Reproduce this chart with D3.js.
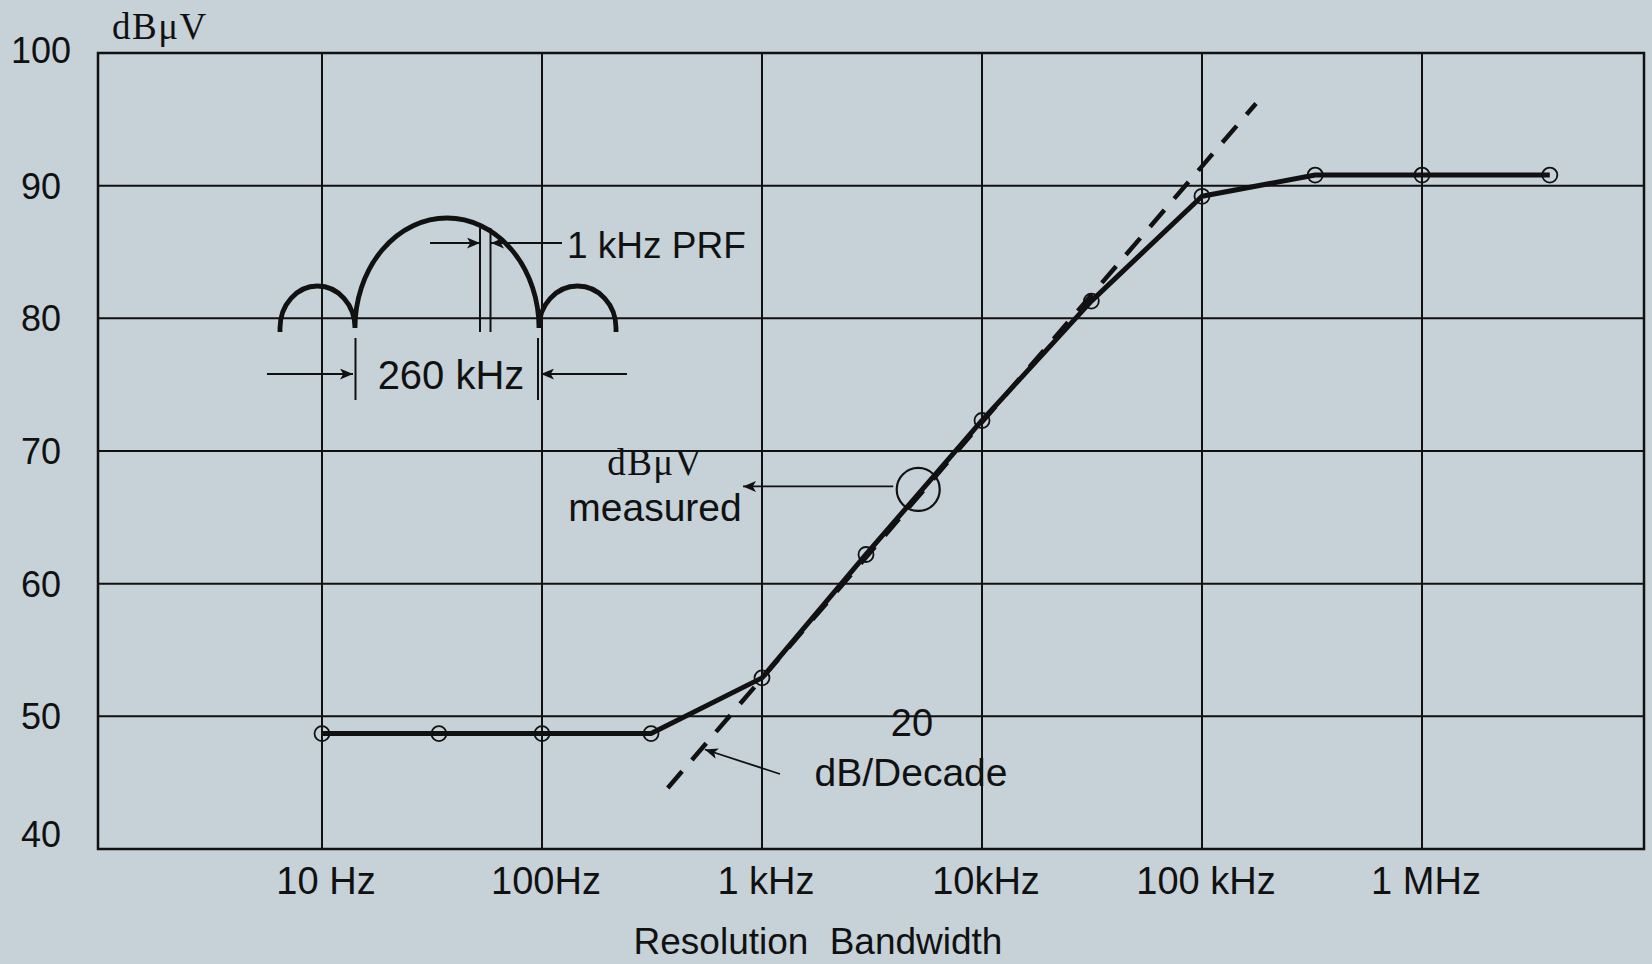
<!DOCTYPE html>
<html>

<head>
    <meta charset="utf-8">
    <script src="https://cdn.jsdelivr.net/npm/d3@7"></script>
    <style>
        body { margin: 0; background: #c6d1d8; }
        svg { display: block; }
    </style>
</head>

<body>
    <div id="chart"></div>

    <script>

        // measured points (resolution bandwidth in Hz, level in dBuV)
        var bandwidths = [10, 34, 100, 313, 1000, 2970, 10000, 31400, 100000, 327000, 1000000, 3810000];
        var levels = [48.7, 48.7, 48.7, 48.7, 52.9, 62.2, 72.3, 81.3, 89.2, 90.8, 90.8, 90.8];

        // 20 dB/decade reference line
        var slopeBandwidths = [373, 176000];
        var slopeLevels = [44.6, 96.2];

        var xTickValues = [10, 100, 1000, 10000, 100000, 1000000];
        var xTickLabels = ["10 Hz", "100Hz", "1 kHz", "10kHz", "100 kHz", "1 MHz"];
        var yTickValues = [100, 90, 80, 70, 60, 50, 40];
        var yGridValues = [50, 60, 70, 80, 90];

        var markerPoint = { f: 5130, db: 67.1 };
        var slopeArrowTip = { f: 550, db: 47.5 };

        var width = 1652,
            height = 964;
        var frame = { left: 98, right: 1644, top: 53, bottom: 849 };

        var sans = "'Liberation Sans', Arial, sans-serif";
        var serif = "'Liberation Serif', 'Times New Roman', serif";
        var ink = "#111";

        var x = d3.scaleLog()
            .domain([1, 1e7])
            .range([frame.left + 4, frame.right - 2]);

        var y = d3.scaleLinear()
            .domain([40, 100])
            .range([frame.bottom, frame.top]);

        var svg = d3.select("#chart")
            .append("svg")
            .attr("width", width)
            .attr("height", height);

        svg.append("rect")
            .attr("width", width)
            .attr("height", height)
            .attr("fill", "#c6d1d8");

        var defs = svg.append("defs");
        defs.append("marker")
            .attr("id", "arrow")
            .attr("viewBox", "0 -5 12 10")
            .attr("refX", 12)
            .attr("refY", 0)
            .attr("markerUnits", "userSpaceOnUse")
            .attr("markerWidth", 13)
            .attr("markerHeight", 11)
            .attr("orient", "auto")
            .append("path")
            .attr("d", "M0,-5L12,0L0,5L3,0Z")
            .attr("fill", ink);

        // grid
        var grid = svg.append("g")
            .attr("stroke", ink)
            .attr("stroke-width", 2);

        grid.selectAll(".hgrid")
            .data(yGridValues)
            .join("line")
            .attr("class", "hgrid")
            .attr("x1", frame.left)
            .attr("x2", frame.right)
            .attr("y1", d => y(d))
            .attr("y2", d => y(d));

        grid.selectAll(".vgrid")
            .data(xTickValues)
            .join("line")
            .attr("class", "vgrid")
            .attr("x1", d => x(d))
            .attr("x2", d => x(d))
            .attr("y1", frame.top)
            .attr("y2", frame.bottom);

        svg.append("rect")
            .attr("x", frame.left)
            .attr("y", frame.top)
            .attr("width", frame.right - frame.left)
            .attr("height", frame.bottom - frame.top)
            .attr("fill", "none")
            .attr("stroke", ink)
            .attr("stroke-width", 2.5);

        // axis labels
        svg.append("g")
            .selectAll("text")
            .data(yTickValues)
            .join("text")
            .attr("x", 41)
            .attr("y", d => y(d) + (d === 40 ? -15 : d === 100 ? -2.5 : 0))
            .attr("dy", "0.36em")
            .attr("text-anchor", "middle")
            .attr("font-family", sans)
            .attr("font-size", 36)
            .attr("fill", ink)
            .text(d => d);

        svg.append("g")
            .selectAll("text")
            .data(xTickValues)
            .join("text")
            .attr("x", d => x(d) + 4)
            .attr("y", 894)
            .attr("text-anchor", "middle")
            .attr("font-family", sans)
            .attr("font-size", 38)
            .attr("fill", ink)
            .text((d, i) => xTickLabels[i]);

        svg.append("text")
            .attr("x", 818)
            .attr("y", 954)
            .attr("text-anchor", "middle")
            .attr("font-family", sans)
            .attr("font-size", 37)
            .attr("word-spacing", 11)
            .attr("fill", ink)
            .text("Resolution Bandwidth");

        svg.append("text")
            .attr("x", 112)
            .attr("y", 39)
            .attr("font-family", serif)
            .attr("font-size", 37)
            .attr("letter-spacing", 1.5)
            .attr("fill", ink)
            .text("dBμV");

        // 20 dB/decade dashed line
        var slopeData = slopeBandwidths.map((f, i) => [f, slopeLevels[i]]);
        svg.append("path")
            .datum(slopeData)
            .attr("fill", "none")
            .attr("stroke", ink)
            .attr("stroke-width", 4.5)
            .attr("stroke-dasharray", "22,15")
            .attr("d", d3.line().x(d => x(d[0])).y(d => y(d[1])));

        // measured curve
        var points = bandwidths.map((f, i) => [f, levels[i]]);
        svg.append("path")
            .datum(points)
            .attr("fill", "none")
            .attr("stroke", ink)
            .attr("stroke-width", 5)
            .attr("stroke-linejoin", "round")
            .attr("d", d3.line().x(d => x(d[0])).y(d => y(d[1])));

        svg.append("g")
            .selectAll("circle")
            .data(points)
            .join("circle")
            .attr("cx", d => x(d[0]))
            .attr("cy", d => y(d[1]))
            .attr("r", 7.5)
            .attr("fill", "none")
            .attr("stroke", ink)
            .attr("stroke-width", 1.8);

        // "dBuV measured" callout
        var mx = x(markerPoint.f),
            my = y(markerPoint.db);
        svg.append("circle")
            .attr("cx", mx)
            .attr("cy", my)
            .attr("r", 21.5)
            .attr("fill", "none")
            .attr("stroke", ink)
            .attr("stroke-width", 2.2);

        svg.append("line")
            .attr("x1", mx - 25)
            .attr("y1", my - 3)
            .attr("x2", 743)
            .attr("y2", my - 3)
            .attr("stroke", ink)
            .attr("stroke-width", 1.8)
            .attr("marker-end", "url(#arrow)");

        svg.append("text")
            .attr("x", 655)
            .attr("y", 475)
            .attr("text-anchor", "middle")
            .attr("font-family", serif)
            .attr("font-size", 37)
            .attr("letter-spacing", 1.5)
            .attr("fill", ink)
            .text("dBμV");

        svg.append("text")
            .attr("x", 655)
            .attr("y", 521)
            .attr("text-anchor", "middle")
            .attr("font-family", sans)
            .attr("font-size", 39)
            .attr("fill", ink)
            .text("measured");

        // "20 dB/Decade" callout
        svg.append("line")
            .attr("x1", 780)
            .attr("y1", 774)
            .attr("x2", x(slopeArrowTip.f))
            .attr("y2", y(slopeArrowTip.db))
            .attr("stroke", ink)
            .attr("stroke-width", 1.8)
            .attr("marker-end", "url(#arrow)");

        svg.append("text")
            .attr("x", 912)
            .attr("y", 736)
            .attr("text-anchor", "middle")
            .attr("font-family", sans)
            .attr("font-size", 38)
            .attr("fill", ink)
            .text("20");

        svg.append("text")
            .attr("x", 911)
            .attr("y", 786)
            .attr("text-anchor", "middle")
            .attr("font-family", sans)
            .attr("font-size", 39)
            .attr("fill", ink)
            .text("dB/Decade");

        // pulse spectrum sketch
        var sketch = svg.append("g")
            .attr("stroke", ink)
            .attr("fill", "none");

        sketch.append("path")
            .attr("d", "M280,332 L280,328 A37.5,42 0 0 1 355,328 A92,110 0 0 1 539,328 A38.5,42 0 0 1 616,328 L616,332")
            .attr("stroke-width", 4.8);

        sketch.selectAll(".prf")
            .data([480, 490.5])
            .join("line")
            .attr("class", "prf")
            .attr("x1", d => d)
            .attr("x2", d => d)
            .attr("y1", 228)
            .attr("y2", 332)
            .attr("stroke-width", 2);

        sketch.selectAll(".span")
            .data([355.5, 538])
            .join("line")
            .attr("class", "span")
            .attr("x1", d => d)
            .attr("x2", d => d)
            .attr("y1", 338)
            .attr("y2", 400)
            .attr("stroke-width", 2);

        var arrows = [
            [430, 243, 480, 243],
            [562, 243, 491, 243],
            [267, 374, 353, 374],
            [627, 374, 541, 374]
        ];
        sketch.selectAll(".arr")
            .data(arrows)
            .join("line")
            .attr("class", "arr")
            .attr("x1", d => d[0])
            .attr("y1", d => d[1])
            .attr("x2", d => d[2])
            .attr("y2", d => d[3])
            .attr("stroke-width", 1.8)
            .attr("marker-end", "url(#arrow)");

        svg.append("text")
            .attr("x", 567)
            .attr("y", 258)
            .attr("font-family", sans)
            .attr("font-size", 37)
            .attr("fill", ink)
            .text("1 kHz PRF");

        svg.append("text")
            .attr("x", 451)
            .attr("y", 389)
            .attr("text-anchor", "middle")
            .attr("font-family", sans)
            .attr("font-size", 40)
            .attr("fill", ink)
            .text("260 kHz");

    </script>
</body>

</html>
